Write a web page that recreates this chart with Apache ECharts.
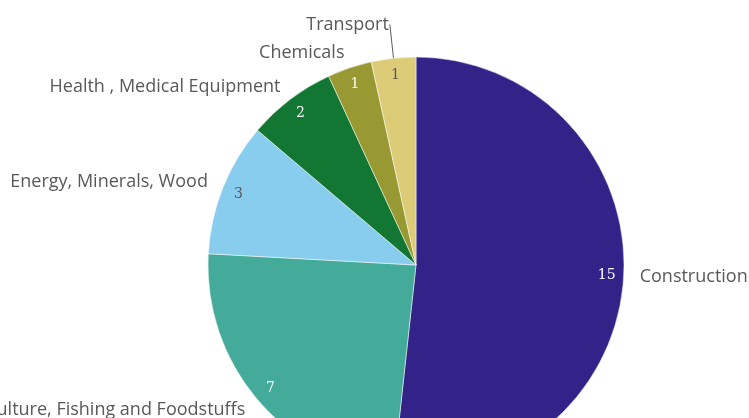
<!DOCTYPE html>
<html>
<head>
<meta charset="utf-8">
<script src="https://cdn.jsdelivr.net/npm/echarts@6/dist/echarts.min.js"></script>
<style>
  html, body { margin: 0; padding: 0; background: #fff; }
  #chart { width: 749px; height: 418px; }
</style>
</head>
<body>
<div id="chart"></div>
<script>
var sectors = ['Construction', 'Agriculture, Fishing and Foodstuffs', 'Energy, Minerals, Wood',
  'Health , Medical Equipment', 'Chemicals', 'Transport'];
var counts = [15, 7, 3, 2, 1, 1];
var colors = ['#332288', '#44aa99', '#88ccee', '#117733', '#999933', '#ddcc77'];
var valueColors = ['#fff', '#fff', '#595959', '#fff', '#fff', '#595959'];

var chart = echarts.init(document.getElementById('chart'));

// main pie with the names outside
var pieData = sectors.map(function (s, i) {
  var item = { name: s, value: counts[i], itemStyle: { color: colors[i] } };
  if (s === 'Transport') {
    item.labelLine = { show: true, length: 34, length2: 0, lineStyle: { color: '#595959', width: 1 } };
    item.label = { distanceToLabelLine: 1 };
  }
  return item;
});

// invisible pie, larger, so that 'inside' puts the values near the rim
var valueData = sectors.map(function (s, i) {
  return { name: s, value: counts[i], label: { color: valueColors[i] } };
});

var option = {
  animation: false,
  series: [{
    type: 'pie',
    center: [416, 265],
    radius: [0, 208],
    startAngle: 90,
    clockwise: true,
    avoidLabelOverlap: false,
    silent: true,
    itemStyle: { borderColor: '#fff', borderWidth: 0.5 },
    label: {
      show: true,
      position: 'outside',
      formatter: '{b}',
      color: '#595959',
      fontSize: 18,
      fontFamily: 'Open Sans',
      distanceToLabelLine: 0
    },
    labelLine: { show: false, length: 16, length2: 0 },
    data: pieData
  }, {
    type: 'pie',
    center: [416, 265],
    radius: [0, 376],
    startAngle: 90,
    clockwise: true,
    silent: true,
    itemStyle: { color: 'transparent', borderWidth: 0 },
    label: {
      show: true,
      position: 'inside',
      formatter: '{c}',
      fontSize: 14,
      fontFamily: 'DejaVu Serif'
    },
    labelLine: { show: false },
    data: valueData
  }]
};
chart.setOption(option);
</script>
</body>
</html>
